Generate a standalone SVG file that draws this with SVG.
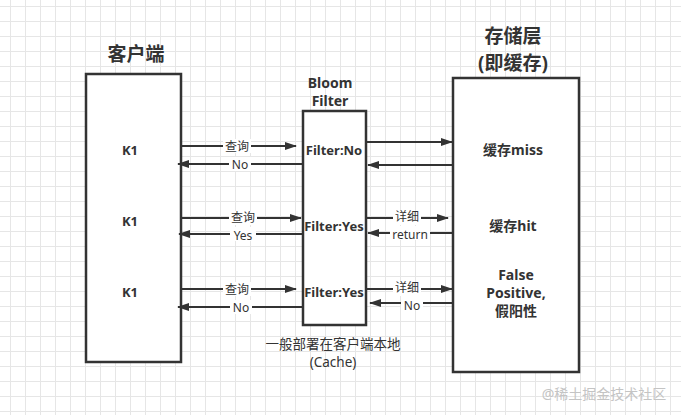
<svg xmlns="http://www.w3.org/2000/svg" width="681" height="415" viewBox="0 0 681 415">
<defs>
<pattern id="grid" x="10" y="6" width="15" height="15" patternUnits="userSpaceOnUse">
<path d="M0.5 0V15M0 0.5H15" stroke="#e6e6e6" stroke-width="1" fill="none"/>
</pattern>
<marker id="ah" viewBox="0 0 12 8" refX="11" refY="4" markerWidth="12" markerHeight="8" markerUnits="userSpaceOnUse" orient="auto">
<path d="M0,0 L12,4 L0,8 z" fill="#333"/>
</marker>
<style>
text{font-family:"Noto Sans","Noto Sans CJK SC",sans-serif;fill:#333;text-anchor:middle;dominant-baseline:central}
.box{fill:#fff;stroke:#333;stroke-width:2.5}
.title{font-size:19px;font-weight:bold}
.lbl{font-size:13px;font-weight:bold}
.lbl2{font-size:14px;font-weight:bold}
.el{font-size:12px}
.note{font-size:13.5px}
.ar{stroke:#333;stroke-width:2;fill:none;marker-end:url(#ah)}
.bg{fill:#fff}
</style>
</defs>
<rect width="681" height="415" fill="#fff"/>
<rect width="681" height="415" fill="url(#grid)"/>

<g id="client">
<text class="title" x="136" y="54">客户端</text>
<rect class="box" x="86" y="74" width="95" height="288"/>
<text class="lbl" x="130" y="150">K1</text>
<text class="lbl" x="130" y="221">K1</text>
<text class="lbl" x="130" y="292">K1</text>
</g>

<g id="bloom">
<text class="lbl2" x="330" y="82">Bloom</text>
<text class="lbl2" x="330" y="100">Filter</text>
<rect class="box" x="303" y="111" width="63" height="214"/>
<text class="lbl" x="334" y="150">Filter:No</text>
<text class="lbl" x="334" y="226">Filter:Yes</text>
<text class="lbl" x="334" y="292">Filter:Yes</text>
<text class="note" x="333" y="344">一般部署在客户端本地</text>
<text class="note" x="333" y="362">(Cache)</text>
</g>

<g id="storage">
<text class="title" x="513" y="36">存储层</text>
<text class="title" x="513" y="63">(即缓存)</text>
<rect class="box" x="453" y="78" width="126" height="294"/>
<text class="lbl2" x="513" y="149">缓存miss</text>
<text class="lbl2" x="513" y="225">缓存hit</text>
<text class="lbl2" x="516" y="274">False</text>
<text class="lbl2" x="516" y="292">Positive,</text>
<text class="lbl2" x="516" y="310">假阳性</text>
</g>

<g id="connectors">
<line class="ar" x1="182" y1="146" x2="296" y2="146"/>
<line class="ar" x1="302" y1="164" x2="178" y2="164"/>
<line class="ar" x1="367" y1="142" x2="452" y2="142"/>
<line class="ar" x1="452" y1="165" x2="368" y2="165"/>

<line class="ar" x1="182" y1="218" x2="301" y2="218"/>
<line class="ar" x1="302" y1="234" x2="179" y2="234"/>
<line class="ar" x1="367" y1="218" x2="448" y2="218"/>
<line class="ar" x1="452" y1="233" x2="368" y2="233"/>

<line class="ar" x1="182" y1="289" x2="296" y2="289"/>
<line class="ar" x1="302" y1="307" x2="178" y2="307"/>
<line class="ar" x1="367" y1="289" x2="452" y2="289"/>
<line class="ar" x1="452" y1="303" x2="370" y2="303"/>

<rect class="bg" x="223" y="139" width="28" height="14"/>
<text class="el" x="237" y="146">查询</text>
<rect class="bg" x="229" y="157" width="22" height="14"/>
<text class="el" x="240" y="164">No</text>
<rect class="bg" x="229" y="211" width="28" height="14"/>
<text class="el" x="243" y="217">查询</text>
<rect class="bg" x="230" y="227" width="26" height="14"/>
<text class="el" x="243" y="235">Yes</text>
<rect class="bg" x="223" y="282" width="28" height="14"/>
<text class="el" x="237" y="289">查询</text>
<rect class="bg" x="230" y="300" width="22" height="14"/>
<text class="el" x="241" y="307">No</text>

<rect class="bg" x="393" y="211" width="28" height="14"/>
<text class="el" x="407" y="216">详细</text>
<rect class="bg" x="390" y="226" width="40" height="14"/>
<text class="el" x="410" y="234.5">return</text>
<rect class="bg" x="393" y="282" width="28" height="14"/>
<text class="el" x="407" y="287">详细</text>
<rect class="bg" x="401" y="296" width="22" height="14"/>
<text class="el" x="412" y="305">No</text>
</g>

<text x="604" y="393" style="font-size:14px;fill:#c4c4c4">@稀土掘金技术社区</text>
</svg>
